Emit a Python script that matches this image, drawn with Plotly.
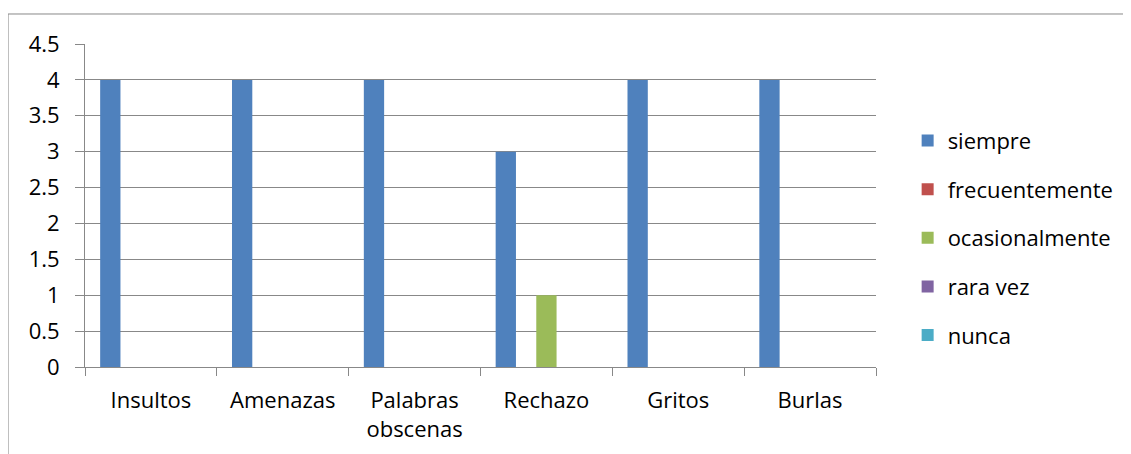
import plotly.graph_objects as go

categories = ["Insultos", "Amenazas", "Palabras<br>obscenas", "Rechazo", "Gritos", "Burlas"]
series_names = ["siempre", "frecuentemente", "ocasionalmente", "rara vez", "nunca"]
siempre = [4, 4, 4, 3, 4, 4]
frecuentemente = [0, 0, 0, 0, 0, 0]
ocasionalmente = [0, 0, 0, 1, 0, 0]
rara_vez = [0, 0, 0, 0, 0, 0]
nunca = [0, 0, 0, 0, 0, 0]
y_ticks = [0, 0.5, 1, 1.5, 2, 2.5, 3, 3.5, 4, 4.5]

COLORS = ["#4F81BD", "#C0504D", "#9BBB59", "#8064A2", "#4BACC6"]
GRID = "#888888"
FONT = "Open Sans, Noto Sans, sans-serif"

fig = go.Figure()
for name, values, color in zip(
    series_names, [siempre, frecuentemente, ocasionalmente, rara_vez, nunca], COLORS
):
    fig.add_trace(
        go.Bar(
            x=categories,
            y=values,
            name=name,
            legendgroup=name,
            marker={"color": color, "line": {"width": 0}},
        )
    )

# the page body adds an 8px offset, so margins are shifted accordingly
fig.update_layout(
    width=1131,
    height=454,
    paper_bgcolor="white",
    plot_bgcolor="white",
    barmode="group",
    bargap=0.23,
    bargroupgap=0,
    margin={"l": 77, "r": 263, "t": 36, "b": 95},
    font={"family": FONT, "size": 22, "color": "#000000"},
    legend={
        "x": 1.04,
        "xanchor": "left",
        "y": 0.40,
        "yanchor": "middle",
        "tracegroupgap": 17,
        "font": {"size": 22},
        "itemwidth": 30,
    },
    showlegend=True,
)
fig.update_xaxes(
    showgrid=False,
    showline=True,
    linecolor=GRID,
    linewidth=1,
    ticks="outside",
    tickson="boundaries",
    ticklen=8,
    tickcolor=GRID,
    ticklabelstandoff=14,
)
fig.update_yaxes(
    range=[0, 4.5],
    tickvals=y_ticks,
    ticktext=[f"{v:g}" for v in y_ticks],
    showgrid=True,
    gridcolor=GRID,
    gridwidth=1,
    showline=True,
    linecolor=GRID,
    ticks="outside",
    ticklen=9,
    tickcolor=GRID,
    zeroline=False,
    ticklabelstandoff=11,
)

# chart outer border (left, top, right)
fig.add_shape(
    type="path",
    xref="paper",
    yref="paper",
    path="M -0.0973,-0.4 L -0.0973,1.0929 L 1.321,1.0929 L 1.321,-0.4",
    line={"color": "#888888", "width": 1},
)

fig.write_html("out.html")
